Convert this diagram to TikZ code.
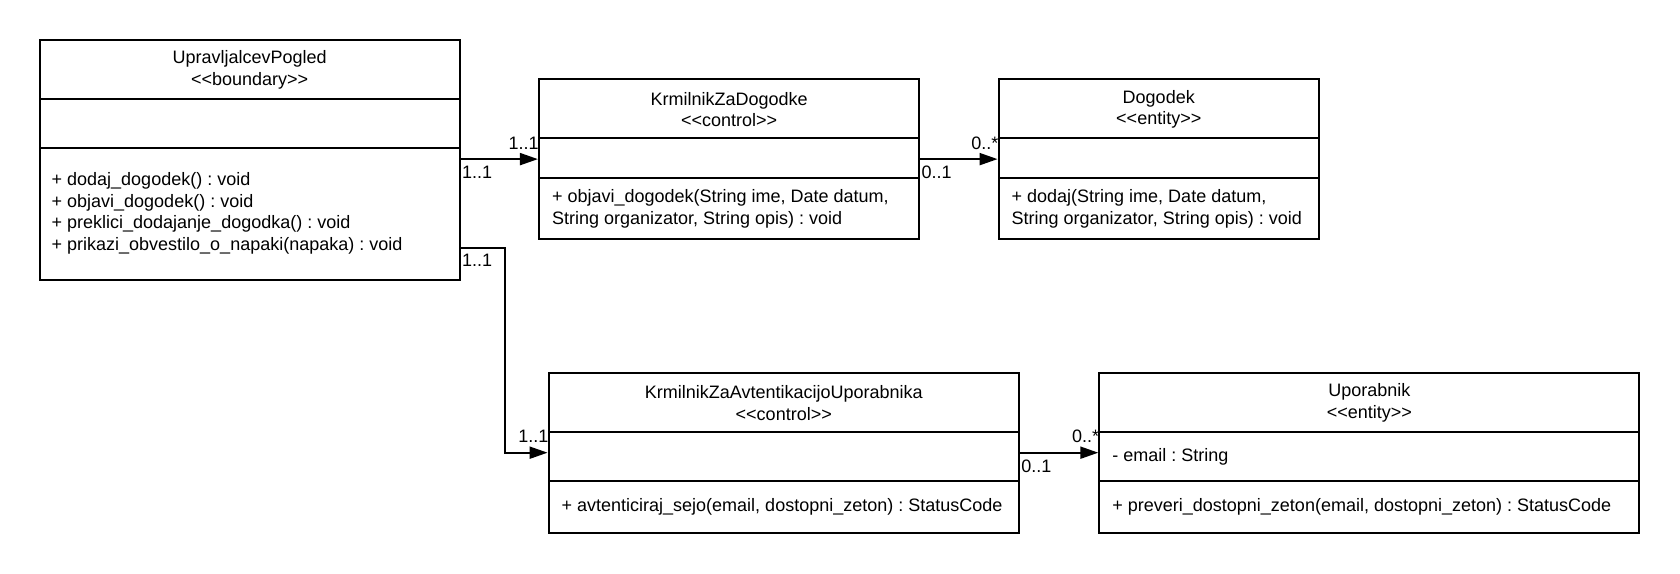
\documentclass[tikz,border=0pt]{standalone}
\usepackage{fontspec}
\setmainfont{Liberation Sans}
\frenchspacing
\usetikzlibrary{fit,arrows.meta}
\begin{document}
\begin{tikzpicture}[x=0.80357pt,y=-0.80357pt,
  box/.style={draw,line width=1.5pt,inner sep=0pt,fit={#1}},
  txt/.style={font=\fontsize{13.5}{16.07}\selectfont,inner sep=0pt,align=left},
  ttl/.style={font=\fontsize{13.5}{16.07}\selectfont,inner sep=0pt,align=center},
  mult/.style={font=\fontsize{13.5}{16.07}\selectfont,inner sep=0pt},
  div/.style={line width=1.5pt},
  assoc/.style={line width=1.5pt,-{Triangle[length=13.5pt,width=9pt]}}]
\useasboundingbox (0,0) rectangle (1568,534.8);
% boxes
\node[box={(37,37)(429,261)}] (b1) {};
\node[box={(503,74)(858,223)}] (b2) {};
\node[box={(932,74)(1231,223)}] (b3) {};
\node[box={(512,348)(951,497)}] (b4) {};
\node[box={(1026,348)(1530,497)}] (b5) {};
% dividers
\draw[div] (37,92) -- (429,92) (37,138) -- (429,138);
\draw[div] (503,129) -- (858,129) (503,166) -- (858,166);
\draw[div] (932,129) -- (1231,129) (932,166) -- (1231,166);
\draw[div] (512,403) -- (951,403) (512,449) -- (951,449);
\draw[div] (1026,403) -- (1530,403) (1026,449) -- (1530,449);
% titles
\node[ttl] (t1) at (233,65) {UpravljalcevPogled\\<{}<boundary>{}>};
\node[ttl] (t2) at (680.5,102) {KrmilnikZaDogodke\\<{}<control>{}>};
\node[ttl] (t3) at (1081.5,102) {Dogodek\\<{}<entity>{}>};
\node[ttl] (t4) at (731.5,376) {KrmilnikZaAvtentikacijoUporabnika\\<{}<control>{}>};
\node[ttl] (t5) at (1278,376) {Uporabnik\\<{}<entity>{}>};
% members
\node[txt,anchor=west] (m1) at (48,199) {+ dodaj\_dogodek() : void\\+ objavi\_dogodek() : void\\+ preklici\_dodajanje\_dogodka() : void\\+ prikazi\_obvestilo\_o\_napaki(napaka) : void};
\node[txt,anchor=west] (m2) at (515,195) {+ objavi\_dogodek(String ime, Date datum,\\String organizator, String opis) : void};
\node[txt,anchor=west] (m3) at (944,195) {+ dodaj(String ime, Date datum,\\String organizator, String opis) : void};
\node[txt,anchor=west] (m4) at (524,473.5) {+ avtenticiraj\_sejo(email, dostopni\_zeton) : StatusCode};
\node[txt,anchor=west] (a5) at (1038,426.5) {- email : String};
\node[txt,anchor=west] (m5) at (1038,473.5) {+ preveri\_dostopni\_zeton(email, dostopni\_zeton) : StatusCode};
% connectors
\coordinate (s1) at (429,231);
\coordinate (k1) at (471,231);
\draw[assoc] (b1.east |- b2.west) -- (b2.west);
\draw[assoc] (b2.east) -- (b3.west);
\draw[assoc] (s1) -- (k1) |- (b4.west);
\draw[assoc] (b4.east) -- (b5.west);
% multiplicities
\node[mult,anchor=east] (l1) at (503,134) {1..1};
\node[mult,anchor=west] (l2) at (431,161) {1..1};
\node[mult,anchor=east] (l3) at (932,134) {0..*};
\node[mult,anchor=west] (l4) at (860,161) {0..1};
\node[mult,anchor=west] (l5) at (431,243) {1..1};
\node[mult,anchor=east] (l6) at (512,407) {1..1};
\node[mult,anchor=east] (l7) at (1026,407) {0..*};
\node[mult,anchor=west] (l8) at (953,435) {0..1};
\end{tikzpicture}
\end{document}
